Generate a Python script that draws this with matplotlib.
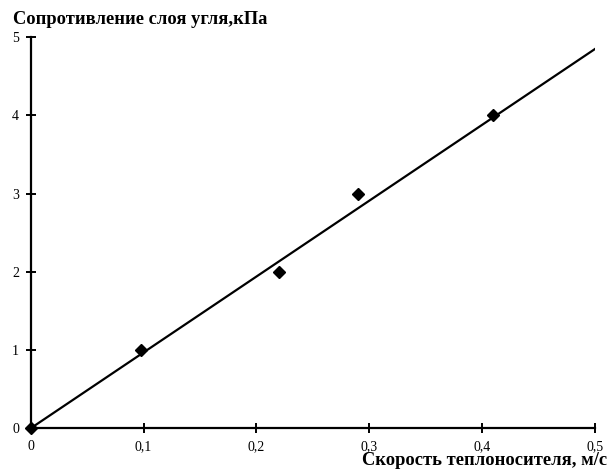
import matplotlib.pyplot as plt
from matplotlib.ticker import FuncFormatter

# measured points: coolant velocity (m/s) vs coal layer resistance (kPa)
velocity = [0.0, 0.098, 0.22, 0.29, 0.41]
resistance = [0.0, 1.0, 2.0, 3.0, 4.0]

# trend line through the origin
trend_x = [0.0, 0.5]
trend_y = [0.0, 4.85]

x_ticks = [0.0, 0.1, 0.2, 0.3, 0.4, 0.5]
y_ticks = [0, 1, 2, 3, 4, 5]

plt.rcParams['font.family'] = ['Liberation Serif', 'DejaVu Serif']

fig = plt.figure(figsize=(6.1, 4.72), dpi=100)
ax = fig.add_axes([0.0503, 0.0926, 0.9250, 0.8284])

ax.plot(trend_x, trend_y, color='black', linewidth=1.6, zorder=2)
ax.plot(velocity, resistance, linestyle='none', marker='D', markersize=6.5,
        color='black', zorder=3, clip_on=False)

ax.set_xlim(0, 0.5)
ax.set_ylim(0, 5)
ax.set_xticks(x_ticks)
ax.set_yticks(y_ticks)
ax.xaxis.set_major_formatter(FuncFormatter(lambda v, p: ('%g' % round(v, 2)).replace('.', ',')))
ax.yaxis.set_major_formatter(FuncFormatter(lambda v, p: '%d' % v))

for side in ['top', 'right']:
    ax.spines[side].set_visible(False)
for side in ['left', 'bottom']:
    ax.spines[side].set_linewidth(1.6)
ax.tick_params(direction='inout', length=7, width=1.4, labelsize=10, pad=5)

fig.text(0.021, 0.959, 'Сопротивление слоя угля,кПа', fontsize=13.3,
         fontweight='bold', ha='left', va='center')
fig.text(0.995, 0.024, 'Скорость теплоносителя, м/с', fontsize=13.3,
         fontweight='bold', ha='right', va='center')

fig.savefig('out.png', dpi=100)
